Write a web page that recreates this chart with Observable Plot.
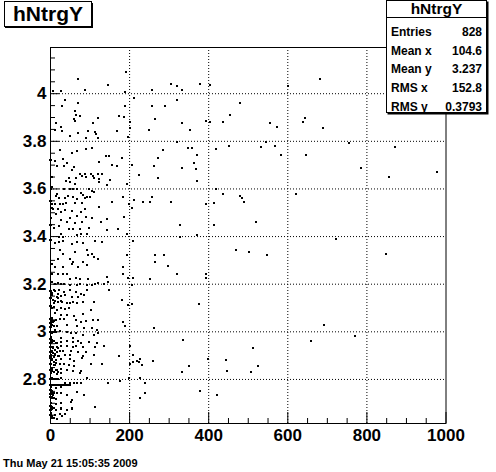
<!DOCTYPE html>
<html>
<head>
<meta charset="utf-8">
<script src="https://cdn.jsdelivr.net/npm/d3@7"></script>
<script src="https://cdn.jsdelivr.net/npm/@observablehq/plot@0.6"></script>
<style>
  html, body { margin: 0; padding: 0; background: #fff; }
  #wrap { position: relative; width: 496px; height: 472px; overflow: hidden; font-family: "Liberation Sans", Arial, Helvetica, sans-serif; font-weight: bold; }
  #wrap svg { position: absolute; left: 0; top: 0; }
</style>
</head>
<body>
<div id="wrap"></div>
<script>
// ---------- data ----------
const histName = "hNtrgY";
const statLabels = ["Entries", "Mean x", "Mean y", "RMS x", "RMS y"];
const statValues = ["828", "104.6", "3.237", "152.8", "0.3793"];
const dateText = "Thu May 21 15:05:35 2009";

const xDomain = [0, 1000];
const yDomain = [2.615, 4.194];
const xTicks = [0, 200, 400, 600, 800, 1000];
const xTickLabels = ["0", "200", "400", "600", "800", "1000"];
const xMinorTicks = [50, 100, 150, 250, 300, 350, 450, 500, 550, 650, 700, 750, 850, 900, 950];
const yTicks = [2.8, 3.0, 3.2, 3.4, 3.6, 3.8, 4.0];
const yTickLabels = ["2.8", "3", "3.2", "3.4", "3.6", "3.8", "4"];
const yMinorTicks = [2.65, 2.7, 2.75, 2.85, 2.9, 2.95, 3.05, 3.1, 3.15, 3.25, 3.3, 3.35, 3.45, 3.5, 3.55, 3.65, 3.7, 3.75, 3.85, 3.9, 3.95, 4.05, 4.1, 4.15];

// sparse region (x > ~200)
const pointsSparse = [
[305,4.040],[320,4.032],[333,4.014],[257,4.014],[377,4.040],[404,4.036],[600,4.033],[682,4.060],
[212,3.980],[320,3.972],[479,3.961],[257,3.948],[290,3.948],[264,3.892],[202,3.882],[249,3.847],[333,3.877],[353,3.847],[392,3.885],[404,3.881],[436,3.881],[454,3.909],[555,3.877],[573,3.859],[639,3.881],[644,3.898],[690,3.854],
[320,3.797],[755,3.793],[872,3.776],[544,3.797],[533,3.776],[568,3.780],[583,3.743],[647,3.743],[452,3.780],[419,3.768],[348,3.772],[358,3.772],[285,3.764],[371,3.743],[272,3.730],[206,3.699],[262,3.696],[333,3.688],[363,3.709],[368,3.684],[224,3.659],[272,3.646],[371,3.633],[786,3.688],[857,3.650],[978,3.671],
[419,3.598],[436,3.579],[479,3.570],[485,3.564],[490,3.544],[621,3.579],[257,3.566],[234,3.545],[252,3.545],[211,3.554],[206,3.520],[305,3.545],[393,3.537],[414,3.540],[328,3.449],[414,3.449],[520,3.461],[328,3.398],[371,3.407],[723,3.389],
[209,3.380],[469,3.342],[502,3.334],[548,3.323],[849,3.327],[264,3.323],[287,3.323],[264,3.292],[297,3.277],[320,3.243],[394,3.243],[394,3.226],[209,3.226],[252,3.222],[206,3.117],[376,3.117],[262,3.015],[692,3.029],[202,2.941],[335,2.966],[659,2.962],[771,2.983],[512,2.933],[209,2.903],[226,2.886],[219,2.878],[224,2.874],[209,2.874],[231,2.861],[259,2.878],[397,2.886],[444,2.882],[333,2.832],[350,2.857],[447,2.836],[507,2.832],[525,2.857],[226,2.807],[239,2.786],[239,2.744],[226,2.723],[378,2.752],[421,2.735]
];

// dense region, upper part (y > 3.8)
const pointsDenseTop = [
[192,4.091],[69,4.061],[145,4.036],[87,4.015],[6,4.010],[26,4.010],[188,4.007],[37,3.973],[69,3.961],[29,3.948],[188,3.948],[62,3.927],[64,3.909],[74,3.906],[173,3.906],[59,3.894],[62,3.885],[120,3.898],[186,3.902],[14,3.877],[107,3.877],[201,3.856],[26,3.860],[11,3.847],[29,3.843],[69,3.835],[95,3.843],[112,3.839],[115,3.832],[168,3.843],[49,3.822],[90,3.814],[120,3.814],[196,3.818]
];

// dense region, 3.4 - 3.8
const pointsDenseMid = [
[24,3.765],[54,3.752],[67,3.759],[90,3.769],[105,3.773],[140,3.740],[148,3.740],[181,3.731],[11,3.717],[31,3.727],[42,3.710],[16,3.698],[34,3.698],[59,3.692],[123,3.714],[156,3.700],[168,3.696],[54,3.678],[74,3.664],[87,3.664],[102,3.664],[120,3.664],[130,3.664],[47,3.647],[64,3.647],[80,3.656],[90,3.650],[107,3.656],[110,3.646],[123,3.642],[150,3.639],[39,3.633],[49,3.630],[62,3.622],[123,3.629],[143,3.616],[193,3.622],
[4,3.608],[33,3.600],[49,3.600],[57,3.600],[67,3.600],[97,3.601],[105,3.593],[110,3.587],[77,3.584],[82,3.576],[16,3.580],[21,3.563],[14,3.570],[37,3.563],[44,3.572],[57,3.566],[67,3.558],[87,3.563],[92,3.566],[100,3.566],[183,3.566],[199,3.538],[4,3.538],[11,3.538],[24,3.538],[31,3.538],[39,3.542],[62,3.542],[80,3.542],[156,3.545],[6,3.517],[19,3.517],[26,3.504],[37,3.513],[54,3.507],[77,3.504],[87,3.517],[123,3.524],[14,3.493],[1,3.479],[49,3.479],[67,3.488],[90,3.482],[105,3.479],[143,3.475],[185,3.482],[26,3.468],[42,3.461],[62,3.457],[80,3.463],[128,3.463],[9,3.437],[21,3.443],[47,3.433],[57,3.432],[74,3.433],[97,3.434],[143,3.429],[171,3.433],[26,3.412],[67,3.408],[77,3.412],[92,3.409],[193,3.412],[21,3.398],[31,3.398],
[0,3.720],[3,3.650],[0,3.550],[5,3.522],[0,3.450],[2,3.600],[0,3.385]
];

// dense region, 2.95 - 3.4
const pointsDenseLow = [
[11,3.373],[21,3.377],[31,3.382],[54,3.370],[67,3.377],[82,3.373],[112,3.382],[130,3.377],[24,3.342],[31,3.328],[62,3.335],[92,3.342],[105,3.328],[110,3.314],[19,3.307],[49,3.307],[57,3.293],[82,3.293],[95,3.321],[120,3.307],[193,3.321],[4,3.286],[11,3.272],[31,3.272],[54,3.286],[69,3.272],[92,3.279],[183,3.272],
[4,3.244],[19,3.244],[31,3.244],[42,3.244],[64,3.228],[49,3.223],[74,3.223],[95,3.223],[143,3.230],[183,3.244],[196,3.226],[4,3.209],[11,3.202],[19,3.205],[26,3.202],[34,3.202],[49,3.198],[67,3.198],[74,3.202],[92,3.198],[105,3.198],[112,3.202],[120,3.205],[135,3.202],[145,3.209],[206,3.198],
[9,3.174],[21,3.174],[34,3.167],[49,3.174],[64,3.167],[77,3.160],[92,3.174],[148,3.174],[4,3.153],[16,3.146],[26,3.149],[37,3.153],[54,3.146],[69,3.146],[85,3.153],[19,3.126],[29,3.126],[42,3.123],[49,3.119],[57,3.126],[67,3.119],[9,3.119],[82,3.126],[110,3.126],[181,3.132],[196,3.111],
[4,3.098],[16,3.093],[26,3.098],[37,3.095],[47,3.098],[102,3.090],[11,3.077],[26,3.070],[42,3.072],[59,3.067],[82,3.074],[4,3.060],[24,3.054],[34,3.055],[64,3.048],[77,3.041],[90,3.044],[107,3.048],[120,3.048],[183,3.041],[188,3.023],[1,3.041],[6,3.041],[14,3.048],[4,3.027],[16,3.023],[42,3.027],[67,3.023],[85,3.018],[105,3.018],[118,3.006],[11,3.009],[24,3.004],[42,2.998],[52,2.993],[64,2.993],[82,2.986],[110,2.988],[120,2.995],[4,2.993],[1,2.979],[26,2.974],[57,2.974],
[0,3.170],[5,3.165],[12,3.170],[18,3.160],[0,3.140],[6,3.135],[12,3.130],[20,3.140],[27,3.131],[0,3.110],[8,3.105],
[0,3.055],[5,3.050],[10,3.045],[0,3.035],[5,3.030],[10,3.026],[0,3.021],[0,3.000],[5,3.000],[10,3.000],[15,3.000]
];

// dense region, bottom (y < 2.98)
const pointsDenseBottom = [
[4,2.958],[16,2.953],[26,2.958],[42,2.960],[57,2.958],[69,2.960],[77,2.951],[97,2.958],[118,2.953],[6,2.937],[16,2.937],[26,2.941],[42,2.940],[57,2.937],[64,2.940],[82,2.937],[112,2.937],[135,2.941],[4,2.920],[16,2.916],[31,2.920],[52,2.920],[69,2.916],[90,2.916],
[1,2.902],[11,2.902],[21,2.898],[37,2.902],[49,2.902],[82,2.898],[110,2.902],[173,2.898],[4,2.884],[14,2.881],[26,2.884],[49,2.884],[59,2.878],[80,2.888],[1,2.864],[11,2.860],[24,2.864],[34,2.864],[47,2.860],[59,2.856],[102,2.864],[130,2.864],[201,2.864],
[4,2.842],[16,2.839],[26,2.842],[42,2.839],[57,2.835],[77,2.836],[1,2.825],[16,2.821],[26,2.825],[74,2.825],[4,2.804],[16,2.800],[26,2.804],[37,2.786],[49,2.783],[59,2.783],[67,2.786],[77,2.786],[92,2.804],[146,2.786],[176,2.794],[199,2.804],
[1,2.769],[14,2.766],[26,2.769],[67,2.748],[4,2.741],[16,2.741],[26,2.744],[42,2.734],[85,2.734],[4,2.720],[14,2.716],[1,2.699],[14,2.696],[26,2.702],[52,2.706],[54,2.713],[4,2.678],[14,2.671],[26,2.678],[42,2.671],[54,2.678],[112,2.685],[1,2.657],[11,2.650],[24,2.654],[4,2.639],[16,2.634],[29,2.646],[37,2.654],
[0,2.970],[5,2.965],[10,2.960],[15,2.955],[0,2.952],
[0,2.935],[6,2.930],[12,2.925],[18,2.930],[24,2.921],[0,2.915],[6,2.910],[12,2.905],[20,2.900],[0,2.897],[8,2.895],
[0,2.890],[5,2.880],[10,2.875],[15,2.870],[0,2.866],[8,2.862],
[0,2.838],[5,2.835],[10,2.830],[15,2.840],[20,2.830],
[0,2.800],[5,2.800],[10,2.800],[15,2.800],[20,2.800],
[0,2.777],[5,2.777],[10,2.777],[15,2.777],[20,2.777],[25,2.777],[30,2.777],[35,2.777],[40,2.777],[45,2.777],[50,2.777],
[0,2.755],[5,2.750],[10,2.745],[0,2.738],[6,2.735],
[0,2.728],[5,2.725],[10,2.722],
[0,2.690],[5,2.685],[10,2.680],[0,2.672],
[0,2.650],[5,2.645],[10,2.640]
];

const points = [...pointsSparse, ...pointsDenseTop, ...pointsDenseMid, ...pointsDenseLow, ...pointsDenseBottom]
  .map(([x, y]) => ({x, y}));

// ---------- layout ----------
const W = 496, H = 472;
const mL = 50, mR = 50.5, mT = 47, mB = 49;
const frameW = W - mL - mR, frameH = H - mT - mB;
const font = '"Liberation Sans", Arial, Helvetica, sans-serif';

const chart = Plot.plot({
  width: W,
  height: H,
  marginLeft: mL, marginRight: mR, marginTop: mT, marginBottom: mB,
  style: { background: "white", fontFamily: font, color: "black", overflow: "visible" },
  x: { domain: xDomain, axis: null },
  y: { domain: yDomain, axis: null },
  marks: [
    Plot.ruleX(xTicks.slice(1, -1), { x: d => d, stroke: "black", strokeDasharray: "1,2", strokeWidth: 1 }),
    Plot.ruleY(yTicks, { y: d => d, stroke: "black", strokeDasharray: "1,2", strokeWidth: 1 }),
    Plot.dot(points, { x: "x", y: "y", symbol: "square", r: 1.13, fill: "black", stroke: "none", shapeRendering: "crispEdges" }),
    Plot.frame({ stroke: "black", strokeWidth: 1 }),
    Plot.tickX(xTicks, { x: d => d, stroke: "black", insetTop: frameH - 11 }),
    Plot.tickX(xMinorTicks, { x: d => d, stroke: "black", insetTop: frameH - 5 }),
    Plot.tickY(yTicks, { y: d => d, stroke: "black", insetRight: frameW - 9 }),
    Plot.tickY(yMinorTicks, { y: d => d, stroke: "black", insetRight: frameW - 5 }),
    Plot.text(xTicks, { x: d => d, text: (d, i) => xTickLabels[i], frameAnchor: "bottom", lineAnchor: "top", dy: 5, fontSize: 17, fontWeight: "bold", fill: "black" }),
    Plot.text(yTicks, { y: d => d, text: (d, i) => yTickLabels[i], frameAnchor: "left", textAnchor: "end", dx: -4, fontSize: 17, fontWeight: "bold", fill: "black" })
  ]
});
document.getElementById("wrap").appendChild(chart);

// ---------- title box, stats box, date ----------
const ov = d3.select("#wrap").append("svg")
  .attr("width", W).attr("height", H)
  .style("font-family", font).style("font-weight", "bold");

// title
ov.append("rect").attr("x", 5).attr("y", 3).attr("width", 88).attr("height", 25).attr("fill", "black");
ov.append("rect").attr("x", 4.5).attr("y", 1.5).attr("width", 87).attr("height", 25).attr("fill", "white").attr("stroke", "black");
ov.append("text").attr("x", 48).attr("y", 21).attr("text-anchor", "middle").attr("font-size", 21).text(histName);

// stats box
const sx = 386.5, sy = 0.5, sw = 100, sh = 112;
ov.append("rect").attr("x", sx + 1).attr("y", sy + 1).attr("width", sw + 1).attr("height", sh + 1).attr("fill", "black");
ov.append("rect").attr("x", sx).attr("y", sy).attr("width", sw).attr("height", sh).attr("fill", "white").attr("stroke", "black");
ov.append("line").attr("x1", sx).attr("x2", sx + sw).attr("y1", 17.5).attr("y2", 17.5).attr("stroke", "black");
ov.append("text").attr("x", sx + sw / 2).attr("y", 14).attr("text-anchor", "middle").attr("font-size", 15.5).text(histName);
const rowY = [35.5, 55, 73, 92, 110.5];
statLabels.forEach((lab, i) => {
  ov.append("text").attr("x", 391).attr("y", rowY[i]).attr("font-size", 12).text(lab);
  ov.append("text").attr("x", 482).attr("y", rowY[i]).attr("text-anchor", "end").attr("font-size", 12).text(statValues[i]);
});

// date
ov.append("text").attr("x", 3).attr("y", 467).attr("font-size", 11).text(dateText);
</script>
</body>
</html>
